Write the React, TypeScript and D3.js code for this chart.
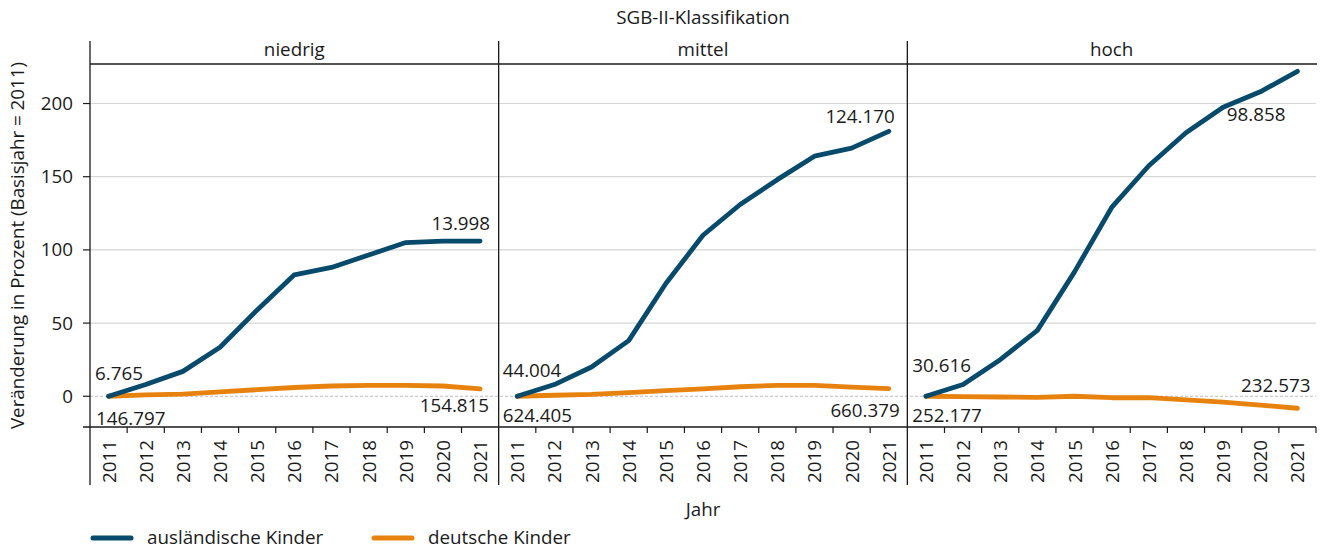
import React from "react";
import * as d3 from "d3";

const years = ["2011", "2012", "2013", "2014", "2015", "2016", "2017", "2018", "2019", "2020", "2021"];
const panels = ["niedrig", "mittel", "hoch"];
const yTicks = [0, 50, 100, 150, 200];

const foreignNiedrig = [0, 8, 17, 33.5, 59, 83, 88, 96.5, 105, 106, 106];
const germanNiedrig = [0, 1, 1.5, 3, 4.5, 6, 7, 7.5, 7.5, 7, 5];
const foreignMittel = [0, 8, 20, 38, 77, 110, 131, 148, 164, 169.5, 181];
const germanMittel = [0, 0.7, 1.3, 2.5, 3.8, 5, 6.5, 7.5, 7.5, 6.3, 5.2];
const foreignHoch = [0, 8, 25, 45, 85, 129, 157.5, 180, 197.5, 208, 222];
const germanHoch = [0, -0.3, -0.5, -0.7, 0, -1, -1, -2.5, -4, -6, -8.2];

const startForeign = ["6.765", "44.004", "30.616"];
const startGerman = ["146.797", "624.405", "252.177"];
const endForeign = ["13.998", "124.170", "98.858"];
const endGerman = ["154.815", "660.379", "232.573"];

const foreignSeries = [foreignNiedrig, foreignMittel, foreignHoch];
const germanSeries = [germanNiedrig, germanMittel, germanHoch];

const BLUE = "#074a6c";
const ORANGE = "#e8820e";
const TEXT = "#1a1a1a";
const FONT = "'Open Sans', sans-serif";
const FS = 18.8;

// label placement offsets (layout only)
const labelLayout = [
  { sf: [5, -16], sg: [6, 29], ef: [10, -11], eg: [9, 23], efAnchor: "end", egAnchor: "end" },
  { sf: [4, -19], sg: [4, 26], ef: [6, -8], eg: [11, 28], efAnchor: "end", egAnchor: "end" },
  { sf: [5, -24], sg: [5, 26], ef: [-12, 50], eg: [13, -16], efAnchor: "end", egAnchor: "end" },
];

export default function App() {
  const W = 1329, H = 552;
  const left = 90, right = 1316, top = 64, bottom = 427;
  const pw = (right - left) / 3;
  const y = d3.scaleLinear().domain([-21, 227]).range([bottom, top]);

  const lineGen = (x: d3.ScaleBand<string>) =>
    d3.line<number>()
      .x((_, i) => (x(years[i]) as number) + x.bandwidth() / 2)
      .y((d) => y(d));

  return (
    <svg width={W} height={H} style={{ display: "block", position: "absolute", left: 0, top: 0 }} fontFamily={FONT}>
      <rect x={0} y={0} width={W} height={H} fill="#fff" />
      {/* title */}
      <text x={(left + right) / 2} y={24} textAnchor="middle" fontSize={FS} fill={TEXT}>SGB-II-Klassifikation</text>

      {/* gridlines */}
      {yTicks.map((t) => (
        t === 0 ? null :
          <line key={"g" + t} x1={left} x2={right} y1={y(t)} y2={y(t)} stroke="#d6d6d6" strokeWidth={1.2} />
      ))}
      <line x1={left} x2={right} y1={y(0)} y2={y(0)} stroke="#bdbdbd" strokeWidth={1} strokeDasharray="3,2" />

      {panels.map((p, pi) => {
        const px = left + pi * pw;
        const x = d3.scaleBand<string>().domain(years).range([px, px + pw]).padding(0);
        const lg = lineGen(x);
        const fs = foreignSeries[pi];
        const gs = germanSeries[pi];
        const x0 = (x(years[0]) as number) + x.bandwidth() / 2;
        const xe = (x(years[years.length - 1]) as number) + x.bandwidth() / 2;
        const L = labelLayout[pi];
        return (
          <g key={p}>
            <text x={px + pw / 2} y={56} textAnchor="middle" fontSize={FS} fill={TEXT}>{p}</text>
            <path d={lg(gs) || ""} fill="none" stroke={ORANGE} strokeWidth={4.8} strokeLinecap="round" strokeLinejoin="round" />
            <path d={lg(fs) || ""} fill="none" stroke={BLUE} strokeWidth={4.8} strokeLinecap="round" strokeLinejoin="round" />
            <text x={x0 - x.bandwidth() / 2 + L.sf[0]} y={y(fs[0]) + L.sf[1]} fontSize={FS} fill={TEXT}>{startForeign[pi]}</text>
            <text x={x0 - x.bandwidth() / 2 + L.sg[0]} y={y(gs[0]) + L.sg[1]} fontSize={FS} fill={TEXT}>{startGerman[pi]}</text>
            <text x={xe + L.ef[0]} y={y(fs[fs.length - 1]) + L.ef[1]} fontSize={FS} fill={TEXT} textAnchor={L.efAnchor}>{endForeign[pi]}</text>
            <text x={xe + L.eg[0]} y={y(gs[gs.length - 1]) + L.eg[1]} fontSize={FS} fill={TEXT} textAnchor={L.egAnchor}>{endGerman[pi]}</text>
            {/* x ticks at band boundaries */}
            {years.map((yr, i) => {
              const bx = (x(yr) as number) + x.bandwidth();
              const isLast = i === years.length - 1;
              if (isLast && pi < panels.length - 1) return null;
              return <line key={"t" + yr} x1={bx} x2={bx} y1={bottom} y2={bottom + 6} stroke={TEXT} strokeWidth={1.2} />;
            })}
            {years.map((yr) => {
              const cx = (x(yr) as number) + x.bandwidth() / 2;
              return (
                <text key={"l" + yr} transform={`translate(${cx},${bottom + 13}) rotate(-90)`} textAnchor="end" dominantBaseline="central" fontSize={FS} fill={TEXT}>{yr}</text>
              );
            })}
            {/* separator / axis vertical line */}
            <line x1={px} x2={px} y1={41} y2={485} stroke={TEXT} strokeWidth={1.3} />
          </g>
        );
      })}

      {/* strip line */}
      <line x1={left} x2={right + 1} y1={top} y2={top} stroke={TEXT} strokeWidth={1.3} />
      {/* bottom axis line */}
      <line x1={left - 7} x2={right} y1={bottom} y2={bottom} stroke={TEXT} strokeWidth={1.3} />

      {/* y ticks */}
      {yTicks.map((t) => (
        <g key={"y" + t}>
          <line x1={left - 7} x2={left} y1={y(t)} y2={y(t)} stroke={TEXT} strokeWidth={1.2} />
          <text x={left - 17} y={y(t)} dy="0.35em" textAnchor="end" fontSize={FS} fill={TEXT}>{t}</text>
        </g>
      ))}

      <text transform={`translate(24,${(top + bottom) / 2}) rotate(-90)`} textAnchor="middle" fontSize={FS} fill={TEXT}>Veränderung in Prozent (Basisjahr = 2011)</text>
      <text x={(left + right) / 2} y={516} textAnchor="middle" fontSize={FS} fill={TEXT}>Jahr</text>

      {/* legend */}
      <line x1={93} x2={131} y1={538} y2={538} stroke={BLUE} strokeWidth={5} strokeLinecap="round" />
      <text x={147} y={544} fontSize={FS} fill={TEXT}>ausländische Kinder</text>
      <line x1={374} x2={412} y1={538} y2={538} stroke={ORANGE} strokeWidth={5} strokeLinecap="round" />
      <text x={428} y={544} fontSize={FS} fill={TEXT}>deutsche Kinder</text>
    </svg>
  );
}
